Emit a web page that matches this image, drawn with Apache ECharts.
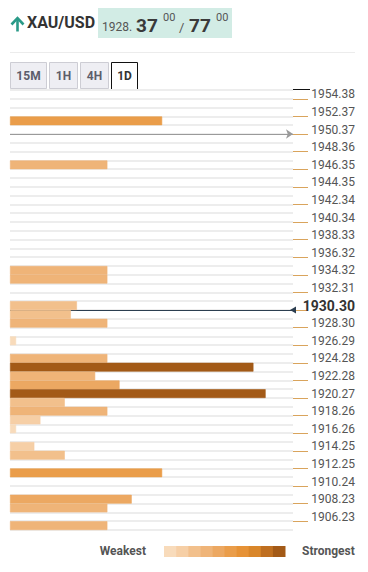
<!DOCTYPE html>
<html><head><meta charset="utf-8">
<script src="https://cdn.jsdelivr.net/npm/echarts@6/dist/echarts.min.js"></script>
<style>html,body{margin:0;padding:0;background:#fff}#c{width:368px;height:572px}</style>
</head><body><div id="c"></div>
<script>
// ---- data ----
const priceLabels = ['1954.38','1952.37','1950.37','1948.36','1946.35','1944.35','1942.34','1940.34','1938.33','1936.32','1934.32','1932.31','1930.30','1928.30','1926.29','1924.28','1922.28','1920.27','1918.26','1916.26','1914.25','1912.25','1910.24','1908.23','1906.23'];
// confluence strength per row (two rows per labelled level, top to bottom)
const strength = [0,0,0,25,0, 0,0,0,16,0, 0,0,0,0,0, 0,0,0,0,0, 16,16,0,0,11, 10,16,0,1,0, 16,40,14,18,42, 9,16,5,1,0, 4,9,0,25,0, 0,20,16,0,16];
const currentPrice = '1930.30';
const previousLevel = '1950.37';
const pairName = 'XAU/USD';
const quoteBase = '1928.';
const bidBig = '37', askBig = '77', pipFrac = '00';
const tabs = ['15M','1H','4H','1D'];
const activeTab = '1D';
const legendLow = 'Weakest', legendHigh = 'Strongest';

// ---- styles ----
const palette = ['#f8dbbb','#f6cfa6','#f2c08c','#efb478','#eca862','#ea9d4a','#e69236','#d9862a','#bf6f20','#a35a17'];
const maxStrength = Math.max(...strength);
function shade(v){ return palette[Math.min(palette.length-1, Math.round(v / maxStrength * (palette.length-1)))]; }

const categories = priceLabels.flatMap(p => [p, '']);
const prevIdx = categories.indexOf(previousLevel) + 1;
const curIdx = categories.indexOf(currentPrice) + 1;
const barData = strength.map(v => ({value:v, itemStyle:{color:shade(v), borderColor:shade(v), borderWidth:v ? 0.6 : 0}}));

const chart = echarts.init(document.getElementById('c'), null, {renderer:'svg'});
const FONT = 'Roboto';

const tabBoxes = [[10,47],[49,78],[80,109],[111,138]];
const graphics = [];
// header
graphics.push({type:'polyline', shape:{points:[[17.5,31.5],[17.5,19]]}, style:{stroke:'#2a9a88', lineWidth:2.6, fill:null}});
graphics.push({type:'polyline', shape:{points:[[11.5,24.5],[17.5,18.2],[23.5,24.5]]}, style:{stroke:'#2a9a88', lineWidth:2.6, fill:null, lineJoin:'miter'}});
graphics.push({type:'text', left:27, top:14, style:{text:pairName, font:'bold 16px '+FONT, fill:'#333'}});
graphics.push({type:'rect', shape:{x:98, y:8, width:134, height:30}, style:{fill:'#d2ece5'}});
graphics.push({type:'text', x:102, y:33, style:{text:quoteBase, font:'12px '+FONT, fill:'#555', verticalAlign:'bottom'}});
graphics.push({type:'text', x:136, y:35, style:{text:bidBig, font:'bold 19px '+FONT, fill:'#3a3a3a', verticalAlign:'bottom'}});
graphics.push({type:'text', x:163, y:12, style:{text:pipFrac, font:'11px '+FONT, fill:'#555', verticalAlign:'top'}});
graphics.push({type:'text', x:179, y:34, style:{text:'/', font:'13px '+FONT, fill:'#555', verticalAlign:'bottom'}});
graphics.push({type:'text', x:189, y:35, style:{text:askBig, font:'bold 19px '+FONT, fill:'#3a3a3a', verticalAlign:'bottom'}});
graphics.push({type:'text', x:216, y:12, style:{text:pipFrac, font:'11px '+FONT, fill:'#555', verticalAlign:'top'}});
graphics.push({type:'line', shape:{x1:10, y1:52.5, x2:355, y2:52.5}, style:{stroke:'#ececec', lineWidth:1}});
// tabs
tabs.forEach((t,i) => {
  const [a,b] = tabBoxes[i];
  const active = t === activeTab;
  if (active) {
    graphics.push({type:'polyline', shape:{points:[[a+0.5,89],[a+0.5,62.5],[b-0.5,62.5],[b-0.5,89]]}, style:{stroke:'#111', lineWidth:1, fill:null}});
  } else {
    graphics.push({type:'rect', shape:{x:a+0.5, y:62.5, width:b-a-1, height:26}, style:{fill:'#eeeef3', stroke:'#cdcdd4', lineWidth:1}});
  }
  graphics.push({type:'text', x:(a+b)/2, y:76, style:{text:t, font:'bold 12px '+FONT, fill: active ? '#333' : '#5d5d6b', align:'center', verticalAlign:'middle'}});
});
graphics.push({type:'line', shape:{x1:10, y1:89.5, x2:111, y2:89.5}, style:{stroke:'#111', lineWidth:1}});
graphics.push({type:'line', shape:{x1:138, y1:89.5, x2:310, y2:89.5}, style:{stroke:'#111', lineWidth:1}});
// hide the closing band tick that the category axis adds at the bottom edge
graphics.push({type:'rect', z:100, shape:{x:293, y:528, width:20, height:4}, style:{fill:'#fff'}});
// legend
graphics.push({type:'text', x:146, y:551, style:{text:legendLow, font:'bold 12px '+FONT, fill:'#555', align:'right', verticalAlign:'middle'}});
palette.forEach((c,i) => {
  graphics.push({type:'rect', shape:{x:164 + i*12.1, y:546, width:12.6, height:11}, style:{fill:c}});
});
graphics.push({type:'text', x:302, y:551, style:{text:legendHigh, font:'bold 12px '+FONT, fill:'#555', align:'left', verticalAlign:'middle'}});

const option = {
  animation:false,
  grid:{left:10, right:75, top:90, bottom:42, containLabel:false},
  xAxis:{type:'value', min:0, max:46.5, show:false},
  yAxis:[{
    type:'category', data:categories, inverse:true, position:'right',
    axisLine:{show:false, onZero:false},
    axisTick:{show:true, length:15, interval:(i)=> i % 2 === 1, lineStyle:{color:'#d9a45c', width:1}},
    axisLabel:{interval:0, align:'right', margin:62, fontFamily:FONT, fontSize:12, color:'#555',
      formatter:(v)=> v === currentPrice ? '{cur|'+v+'}' : v,
      rich:{cur:{fontFamily:FONT, fontSize:14, fontWeight:'bold', color:'#333'}}},
    splitLine:{show:true, interval:0, lineStyle:{color:'#ededed', width:2}}
  },{
    type:'value', min:0, max:categories.length, inverse:true, show:false
  }],
  series:[
    {type:'bar', yAxisIndex:0, z:2, barCategoryGap:0, data:barData},
    {type:'line', yAxisIndex:1, data:[], silent:true,
      markLine:{silent:true, z:3, symbol:['none','arrow'], symbolSize:[7,7], label:{show:false},
        lineStyle:{color:'#9a9a9a', width:1, type:'solid'}, data:[{yAxis:prevIdx}]}},
    {type:'line', yAxisIndex:1, data:[], silent:true,
      markLine:{silent:true, z:1, symbol:['none','triangle'], symbolSize:[7,6], symbolRotate:90, label:{show:false},
        lineStyle:{color:'#2c3e50', width:1, type:'solid'}, itemStyle:{color:'#2c3e50'}, data:[{yAxis:curIdx}]}}
  ],
  graphic:graphics
};
chart.setOption(option);
</script></body></html>
